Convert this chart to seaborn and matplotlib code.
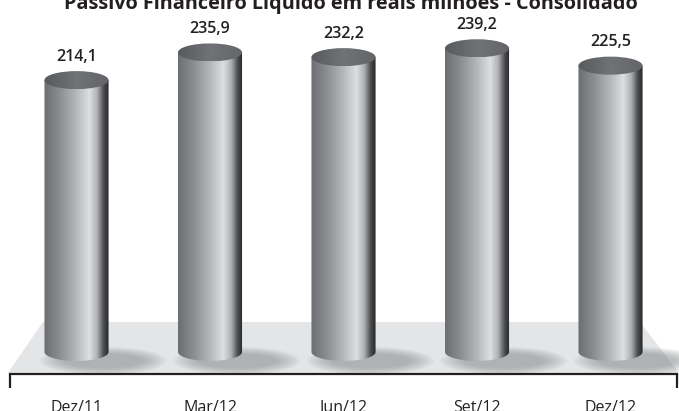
import numpy as np
import matplotlib
matplotlib.use("Agg")
import matplotlib.pyplot as plt
from matplotlib.path import Path
from matplotlib.patches import PathPatch, Ellipse, Polygon
from matplotlib.colors import LinearSegmentedColormap
import seaborn as sns

# -------- DATA --------
periods = ["Dez/11", "Mar/12", "Jun/12", "Set/12", "Dez/12"]
values = [214.1, 235.9, 232.2, 239.2, 225.5]
value_labels = ["214,1", "235,9", "232,2", "239,2", "225,5"]
title = "Passivo Financeiro Líquido em reais milhões - Consolidado"

# -------- STYLE --------
sns.set_style("white")
plt.rcParams["font.family"] = ["Open Sans", "DejaVu Sans"]
text_color = "#231f20"

cyl_cmap = LinearSegmentedColormap.from_list(
    "cyl",
    [(0.0, "#6c6e71"), (0.2, "#85878a"), (0.5, "#b5b8bb"), (0.7, "#dde0e2"),
     (0.82, "#aeb0b3"), (0.92, "#4c4d4f"), (1.0, "#252526")],
)
top_cmap = LinearSegmentedColormap.from_list("top", ["#585a5d", "#707275", "#636568"])

fig = plt.figure(figsize=(6.79, 4.11), dpi=100)
ax = fig.add_axes([0, 0, 1, 1])

bar_w = 0.48
sns.barplot(x=periods, y=values, width=bar_w, color="#999999", ax=ax, zorder=3)

ell_h = 14.2  # full height of cylinder caps (data units)

# floor
floor = Polygon([(-0.251, 23.6), (4.22, 23.6), (4.513, -16.5), (-0.513, -16.5)],
                closed=True, facecolor="#e3e5e6", edgecolor="none", zorder=1)
ax.add_patch(floor)

grad = np.linspace(0, 1, 256).reshape(1, -1)
for p in ax.containers[0].patches:
    x0, w, h = p.get_x(), p.get_width(), p.get_height()
    xc = x0 + w / 2
    p.set_facecolor("none")
    p.set_edgecolor("none")

    # soft shadow on the floor
    for k in range(8):
        s = 1 - k / 8
        ax.add_patch(Ellipse((xc + 0.2, -7), (0.55 + 0.4 * s), (10 + 12 * s),
                             facecolor="#7e8082", edgecolor="none", alpha=0.08, zorder=2))

    # cylinder body with rounded bottom
    t = np.linspace(np.pi, 2 * np.pi, 40)
    bottom = np.column_stack([xc + w / 2 * np.cos(t), ell_h / 2 * np.sin(t)])
    verts = np.vstack([[[x0, h]], bottom, [[x0 + w, h]], [[x0, h]]])
    codes = [Path.MOVETO] + [Path.LINETO] * (len(verts) - 2) + [Path.CLOSEPOLY]
    body = PathPatch(Path(verts, codes), facecolor="none", edgecolor="none", zorder=3)
    ax.add_patch(body)
    im = ax.imshow(grad, cmap=cyl_cmap, extent=[x0, x0 + w, -ell_h, h],
                   aspect="auto", zorder=3, interpolation="bilinear")
    im.set_clip_path(body)

    # top cap
    cap = Ellipse((xc, h), w, ell_h, facecolor="none", edgecolor="none", zorder=4)
    ax.add_patch(cap)
    im2 = ax.imshow(grad, cmap=top_cmap, extent=[x0, x0 + w, h - ell_h / 2, h + ell_h / 2],
                    aspect="auto", zorder=4, interpolation="bilinear")
    im2.set_clip_path(cap)

ax.bar_label(ax.containers[0], labels=value_labels, padding=11,
             fontsize=11.5, fontweight="semibold", color=text_color)

# -------- AXES --------
ax.set_xlim(-0.573, 4.513)
ax.set_ylim(-46.5, 277.2)
for s in ["top", "left", "right"]:
    ax.spines[s].set_visible(False)
ax.spines["bottom"].set_position(("data", -17.3))
ax.spines["bottom"].set_bounds(-0.5, 4.5)
ax.spines["bottom"].set_linewidth(1.6)
ax.spines["bottom"].set_color(text_color)
ax.set_yticks([])
ax.set_xticks(range(len(periods)))
ax.set_xticklabels(periods, fontsize=11.5, color=text_color)
ax.set_xticks(np.arange(-0.5, 5, 1.0), minor=True)
ax.tick_params(axis="x", which="major", length=0, pad=19)
ax.tick_params(axis="x", which="minor", length=6, width=1.6, color=text_color, direction="out")
ax.vlines([-0.5, 4.5], -17.3, -28.5, color=text_color, linewidth=1.6, clip_on=False)
ax.set_xlabel("")
ax.set_ylabel("")

fig.text(0.517, 0.979, title, ha="center", va="baseline", fontsize=14.3,
         fontweight="bold", color=text_color)

fig.savefig("out.png", dpi=100)
